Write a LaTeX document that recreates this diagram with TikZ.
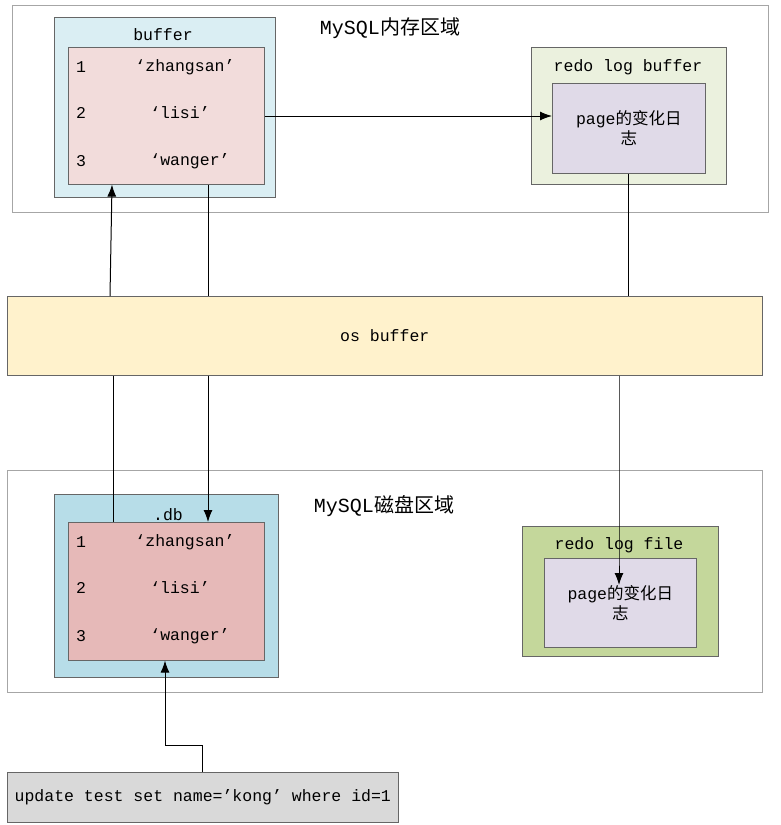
\documentclass[tikz,border=0pt]{standalone}
\usepackage{fontspec}
\usetikzlibrary{arrows.meta}
\setmainfont{Liberation Mono}
\newfontfamily\cjk{Noto Sans CJK SC}
\begin{document}
\begin{tikzpicture}[x=1pt,y=-1pt,
 region/.style={draw=gray!70,fill=white},
 box/.style={draw=gray!80!black,line width=0.6pt},
 t/.style={font=\fontsize{16.5}{20}\selectfont},
 arr/.style={-{Latex[length=12pt,width=9pt]},line width=1pt},
 ln/.style={line width=1pt}]
\useasboundingbox (0,0) rectangle (780,825);
\definecolor{cbuf}{HTML}{DAEEF3}\definecolor{cpink}{HTML}{F2DCDB}
\definecolor{cgreen}{HTML}{EBF1DE}\definecolor{clav}{HTML}{E0DAE8}
\definecolor{cos}{HTML}{FFF2CC}\definecolor{cdb}{HTML}{B7DDE8}
\definecolor{cdbin}{HTML}{E6B9B8}\definecolor{cfile}{HTML}{C4D79B}
\definecolor{csql}{HTML}{D9D9D9}
% top region
\draw[region] (12,5) rectangle (768,212);
\node[t,font=\fontsize{20}{22}\selectfont] (memt) at (390,28) {MySQL{\cjk 内存区域}};
\draw[box,fill=cbuf] (54,17) rectangle (275,197);
\node[t] (buft) at (163,35) {buffer};
\node[box,fill=cpink,minimum width=196,minimum height=137,anchor=north west,inner sep=0] (buf) at (68,47) {};
\node[t] at (81,67) {1};\node[t] at (185,67) {‘zhangsan’};
\node[t] at (81,113) {2};\node[t] at (180,113) {‘lisi’};
\node[t] at (81,161) {3};\node[t] at (190,161) {‘wanger’};
\draw[box,fill=cgreen] (531,47) rectangle (726,184);
\node[t] (rlbt) at (628,67) {redo log buffer};
\node[box,fill=clav,minimum width=153,minimum height=90,anchor=north west,inner sep=0,t,align=center] (rlb) at (552,83) {page{\cjk 的变化日}\\{\cjk 志}};
% os buffer
\node[box,fill=cos,minimum width=755,minimum height=79,anchor=north west,inner sep=0,t] (os) at (7,296) {os buffer};
% bottom region
\draw[region] (7,470) rectangle (762,692);
\node[t,font=\fontsize{20}{22}\selectfont] (dskt) at (384,506) {MySQL{\cjk 磁盘区域}};
\draw[box,fill=cdb] (54,494) rectangle (278,677);
\node[t] (dbt) at (168,515) {.db};
\node[box,fill=cdbin,minimum width=196,minimum height=138,anchor=north west,inner sep=0] (db) at (68,522) {};
\node[t] at (81,542) {1};\node[t] at (185,542) {‘zhangsan’};
\node[t] at (81,588) {2};\node[t] at (180,588) {‘lisi’};
\node[t] at (81,636) {3};\node[t] at (190,636) {‘wanger’};
\draw[box,fill=cfile] (522,526) rectangle (718,656);
\node[t] (rlft) at (619,545) {redo log file};
\node[box,fill=clav,minimum width=152,minimum height=89,anchor=north west,inner sep=0,t,align=center] (rlf) at (544,558) {page{\cjk 的变化日}\\{\cjk 志}};
% sql
\node[box,fill=csql,minimum width=391,minimum height=50,anchor=north west,inner sep=0,t] (sql) at (7,772) {update test set name=\symbol{39}kong\symbol{39} where id=1};
% connectors
\draw[arr] (buf.east |- 0,116) -- (rlb.west |- 0,116);
\draw[arr] (os.north -| 110,0) -- (buf.south -| 112,0);
\draw[ln] (buf.south -| 208,0) -- (os.north -| 208,0);
\draw[ln] (rlb.south -| 628,0) -- (os.north -| 628,0);
\draw[ln] (os.south -| 113,0) -- (db.north -| 113,0);
\draw[arr] (os.south -| 208,0) -- (db.north -| 208,0);
\draw[arr] (os.south -| 619,0) -- (rlf.north -| 619,0) -- ++(0,27);
\coordinate (c1) at (202,745);
\draw[arr] (sql.north -| 202,0) -- (c1) -- (165,745) -- (db.south -| 165,0);
\end{tikzpicture}
\end{document}
